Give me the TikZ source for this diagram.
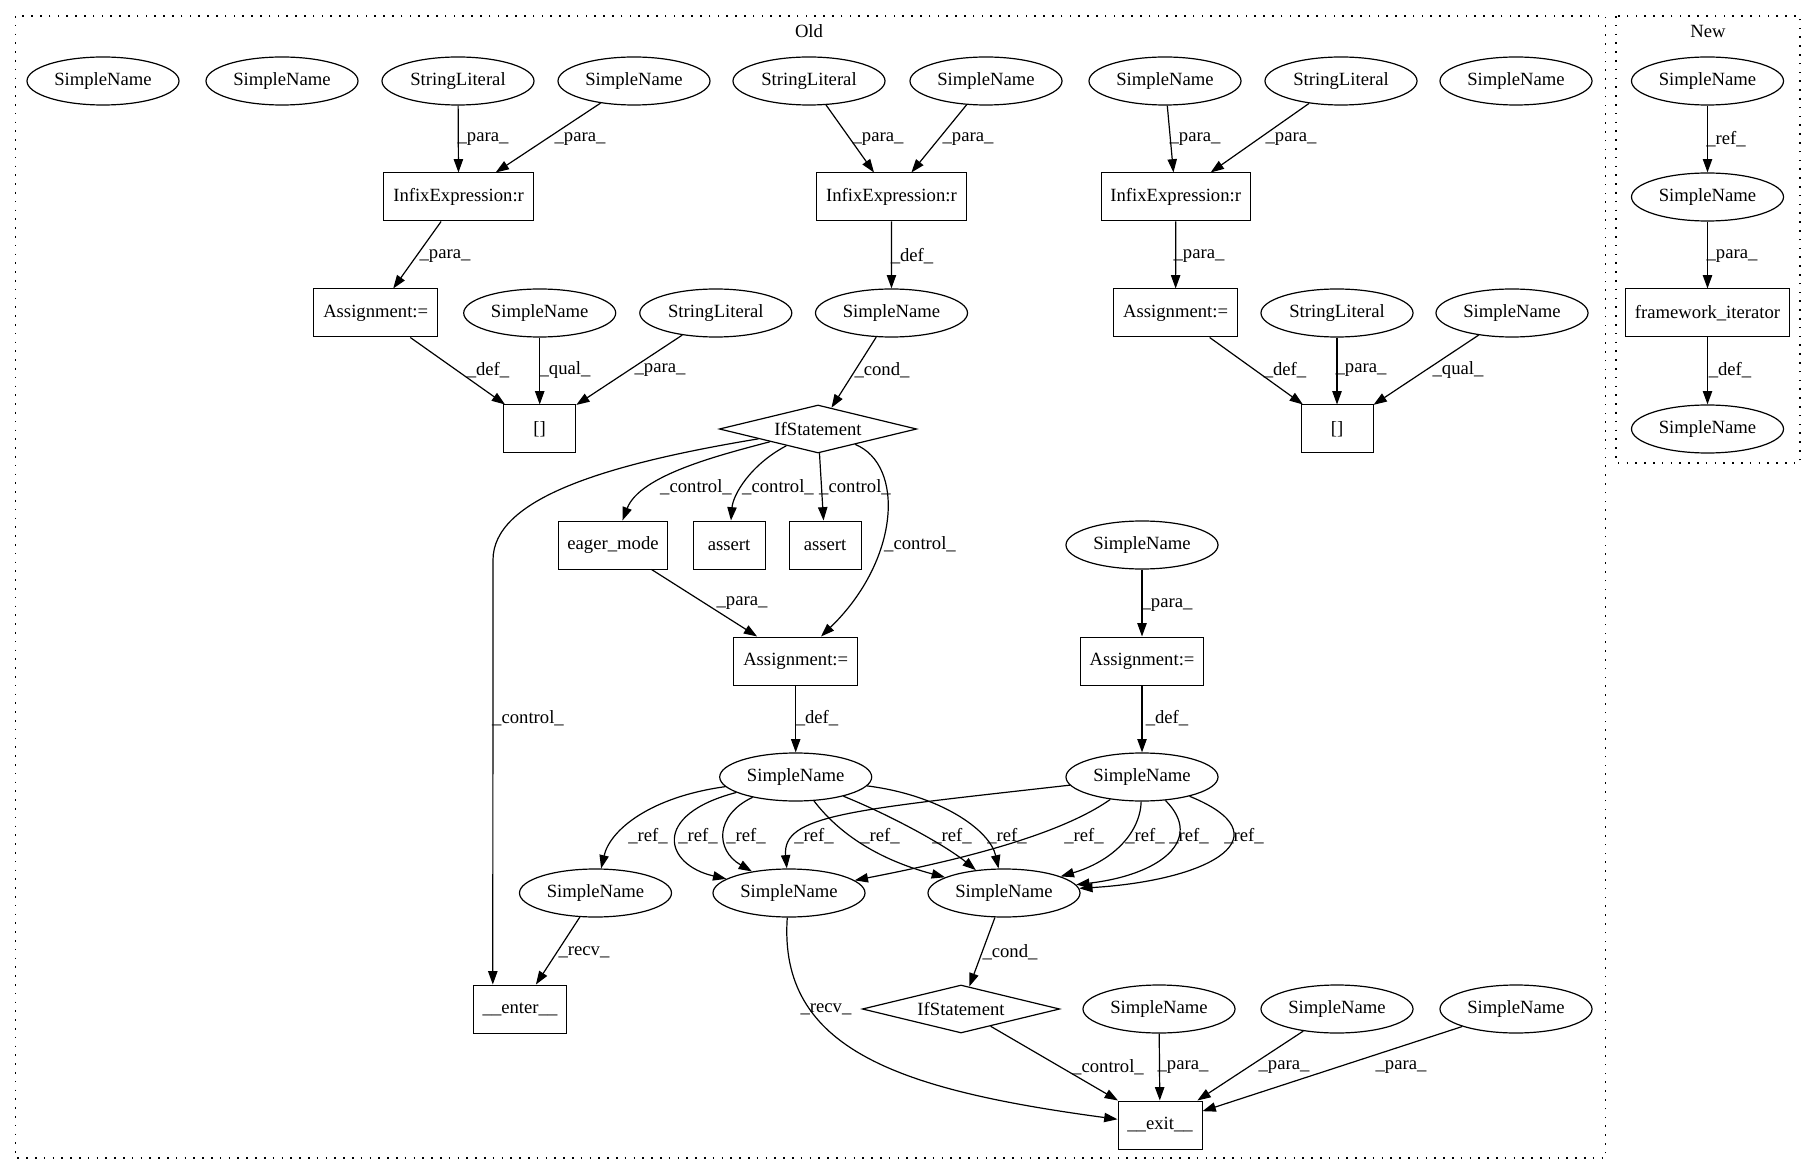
\documentclass[tikz,border=0pt]{standalone}
\usepackage{fontspec}
\setmainfont{Liberation Serif}
\usetikzlibrary{arrows.meta, shapes.geometric}

\begin{document}
\begin{tikzpicture}[
    x=0.75pt, y=-0.75pt,
    every node/.style={font=\fontsize{14}{16}\selectfont},
    ell/.style={ellipse, draw, line width=0.9pt, minimum width=114pt,
                minimum height=36pt, inner sep=0pt},
    box/.style={rectangle, draw, line width=0.75pt, minimum width=54pt,
                minimum height=36pt, inner xsep=7pt},
    cond/.style={diamond, draw, line width=0.9pt, shape aspect=4,
                minimum width=148pt, minimum height=36pt, inner sep=0pt},
    arr/.style={-{Triangle[length=10pt, width=7pt]}, line width=0.9pt},
    lbl/.style={inner sep=0pt},
    clu/.style={line width=1pt, dash pattern=on 1.2pt off 5.4pt}
  ]
    \useasboundingbox (0,0) rectangle (1816,1176);

    % clusters
    \draw[clu] (15.5,16) rectangle (1605.7,1158);
    \draw[clu] (1616,16) rectangle (1800,463);
    \node (oldlbl) at (809,31) {Old};
    \node (newlbl) at (1708,31) {New};

    % Old
    \node[ell] (sn1) at (103,81)  {SimpleName};
    \node[ell] (sn2) at (282,81)  {SimpleName};
    \node[ell] (sl1) at (458,81)  {StringLiteral};
    \node[ell] (sn3) at (634,81)  {SimpleName};
    \node[ell] (sl2) at (809,81)  {StringLiteral};
    \node[ell] (sn4) at (986,81)  {SimpleName};
    \node[ell] (sn5) at (1165,81) {SimpleName};
    \node[ell] (sl3) at (1341,81) {StringLiteral};
    \node[ell] (sn6) at (1516,81) {SimpleName};

    \node[box] (inf1) at (458.6,197)  {InfixExpression:r};
    \node[box] (inf2) at (891.4,197)  {InfixExpression:r};
    \node[box] (inf3) at (1175.7,197) {InfixExpression:r};

    \node[box] (asg1) at (375.7,313)  {Assignment:=};
    \node[ell] (sn7)  at (539.7,313)  {SimpleName};
    \node[ell] (sl4)  at (715.8,313)  {StringLiteral};
    \node[ell] (sn8)  at (891.5,313)  {SimpleName};
    \node[box] (asg2) at (1175.6,313) {Assignment:=};
    \node[ell] (sl5)  at (1337,313)   {StringLiteral};
    \node[ell] (sn9)  at (1512,313)   {SimpleName};

    \node[box]  (idx1) at (539.7,429) {[]};
    \node[cond] (if1)  at (818,429)   {IfStatement};
    \node[box]  (idx2) at (1337,429)  {[]};

    \node[box] (eager) at (613,545)  {eager\_mode};
    \node[box] (as1)   at (729,545)  {assert};
    \node[box] (as2)   at (825,545)  {assert};
    \node[ell] (sn10)  at (1142,545) {SimpleName};

    \node[box] (asg3) at (795.7,661) {Assignment:=};
    \node[box] (asg4) at (1142,661)  {Assignment:=};

    \node[ell] (snL) at (795.7,777) {SimpleName};
    \node[ell] (snR) at (1142,777)  {SimpleName};

    \node[ell] (snA) at (595.5,893) {SimpleName};
    \node[ell] (snB) at (789,893)   {SimpleName};
    \node[ell] (snC) at (1004,893)  {SimpleName};

    \node[box]  (enter) at (520,1009)  {\_\_enter\_\_};
    \node[cond] (if2)   at (961,1009)  {IfStatement};
    \node[ell]  (sn11)  at (1159,1009) {SimpleName};
    \node[ell]  (sn12)  at (1337,1009) {SimpleName};
    \node[ell]  (sn13)  at (1516,1009) {SimpleName};
    \node[box]  (exit)  at (1160,1125) {\_\_exit\_\_};

    % New
    \node[ell] (nsn1) at (1707.5,81)  {SimpleName};
    \node[ell] (nsn2) at (1707.5,197) {SimpleName};
    \node[box] (fwit) at (1707.5,313) {framework\_iterator};
    \node[ell] (nsn3) at (1707.5,429) {SimpleName};

    % edges, top part
    \draw[arr] (sl1) -- (inf1) node[lbl] at (483,139) {\_para\_};
    \draw[arr] (sn3) -- (inf1) node[lbl] at (580,139) {\_para\_};
    \draw[arr] (inf1) -- (asg1) node[lbl] at (445,256) {\_para\_};
    \draw[arr] (asg1) -- (idx1) node[lbl] at (488,370) {\_def\_};
    \draw[arr] (sn7) -- (idx1) node[lbl] at (565,370) {\_qual\_};
    \draw[arr] (sl4) -- (idx1) node[lbl] at (660,370) {\_para\_};

    \draw[arr] (sl2) -- (inf2) node[lbl] at (878,139) {\_para\_};
    \draw[arr] (sn4) -- (inf2) node[lbl] at (968,139) {\_para\_};
    \draw[arr] (inf2) -- (sn8) node[lbl] at (912,256) {\_def\_};
    \draw[arr] (sn8) -- (if1) node[lbl] at (882,370) {\_cond\_};

    \draw[arr] (sn5) -- (inf3) node[lbl] at (1195,139) {\_para\_};
    \draw[arr] (sl3) -- (inf3) node[lbl] at (1291,139) {\_para\_};
    \draw[arr] (inf3) -- (asg2) node[lbl] at (1199,256) {\_para\_};
    \draw[arr] (asg2) -- (idx2) node[lbl] at (1285,370) {\_def\_};
    \draw[arr] (sl5) -- (idx2) node[lbl] at (1361,370) {\_para\_};
    \draw[arr] (sn9) -- (idx2) node[lbl] at (1458,370) {\_qual\_};

    \draw[arr] (nsn1) -- (nsn2) node[lbl] at (1726,139) {\_ref\_};
    \draw[arr] (nsn2) -- (fwit) node[lbl] at (1732,256) {\_para\_};
    \draw[arr] (fwit) -- (nsn3) node[lbl] at (1730,370) {\_def\_};

    % control from the first IfStatement
    \draw[arr] (if1) .. controls (720,455) and (640,475) .. (eager)
        node[lbl] at (696,487) {\_control\_};
    \draw[arr] (if1) .. controls (750,465) and (733,495) .. (as1)
        node[lbl] at (778,487) {\_control\_};
    \draw[arr] (if1) -- (as2) node[lbl] at (855,487) {\_control\_};
    \draw[arr] (if1) .. controls (905,465) and (900,560) .. (asg3)
        node[lbl] at (920,544) {\_control\_};
    \draw[arr] (if1) .. controls (600,465) and (493,500) .. (493,560) -- (enter.138)
        node[lbl] at (528,718) {\_control\_};

    \draw[arr] (eager) -- (asg3) node[lbl] at (742,603) {\_para\_};
    \draw[arr] (asg3) -- (snL) node[lbl] at (817,718) {\_def\_};
    \draw[arr] (sn10) -- (asg4) node[lbl] at (1167,605) {\_para\_};
    \draw[arr] (asg4) -- (snR) node[lbl] at (1167,718) {\_def\_};

    % refs
    \draw[arr] (snL) .. controls (650,797) and (610,830) .. (snA)
        node[lbl] at (648,836) {\_ref\_};
    \draw[arr] (snL) .. controls (650,815) and (665,865) .. (snB)
        node[lbl] at (698,836) {\_ref\_};
    \draw[arr] (snL) .. controls (715,815) and (715,850) .. (snB)
        node[lbl] at (746,836) {\_ref\_};
    \draw[arr] (snL) .. controls (840,835) and (880,860) .. (snC)
        node[lbl] at (880,836) {\_ref\_};
    \draw[arr] (snL) .. controls (890,815) and (945,845) .. (snC)
        node[lbl] at (952,836) {\_ref\_};
    \draw[arr] (snL) .. controls (940,795) and (990,830) .. (snC)
        node[lbl] at (1007,836) {\_ref\_};
    \draw[arr] (snR) .. controls (850,810) and (782,815) .. (snB)
        node[lbl] at (814,836) {\_ref\_};
    \draw[arr] (snR) .. controls (1060,835) and (960,860) .. (snB)
        node[lbl] at (1084,836) {\_ref\_};
    \draw[arr] (snR) .. controls (1140,835) and (1110,862) .. (snC)
        node[lbl] at (1145,836) {\_ref\_};
    \draw[arr] (snR) .. controls (1205,840) and (1160,875) .. (snC)
        node[lbl] at (1189,836) {\_ref\_};
    \draw[arr] (snR) .. controls (1285,835) and (1215,880) .. (snC)
        node[lbl] at (1244,836) {\_ref\_};

    % bottom part
    \draw[arr] (snA) -- (enter) node[lbl] at (584,952) {\_recv\_};
    \draw[arr] (snC) -- (if2) node[lbl] at (1010,952) {\_cond\_};
    \draw[arr] (snB) .. controls (778,1050) and (900,1090) .. (exit)
        node[lbl] at (826,1009) {\_recv\_};
    \draw[arr] (if2) -- (exit) node[lbl] at (1108,1067) {\_control\_};
    \draw[arr] (sn11) -- (exit) node[lbl] at (1183,1067) {\_para\_};
    \draw[arr] (sn12) -- (exit) node[lbl] at (1284,1067) {\_para\_};
    \draw[arr] (sn13) -- (exit) node[lbl] at (1401,1067) {\_para\_};
\end{tikzpicture}
\end{document}
